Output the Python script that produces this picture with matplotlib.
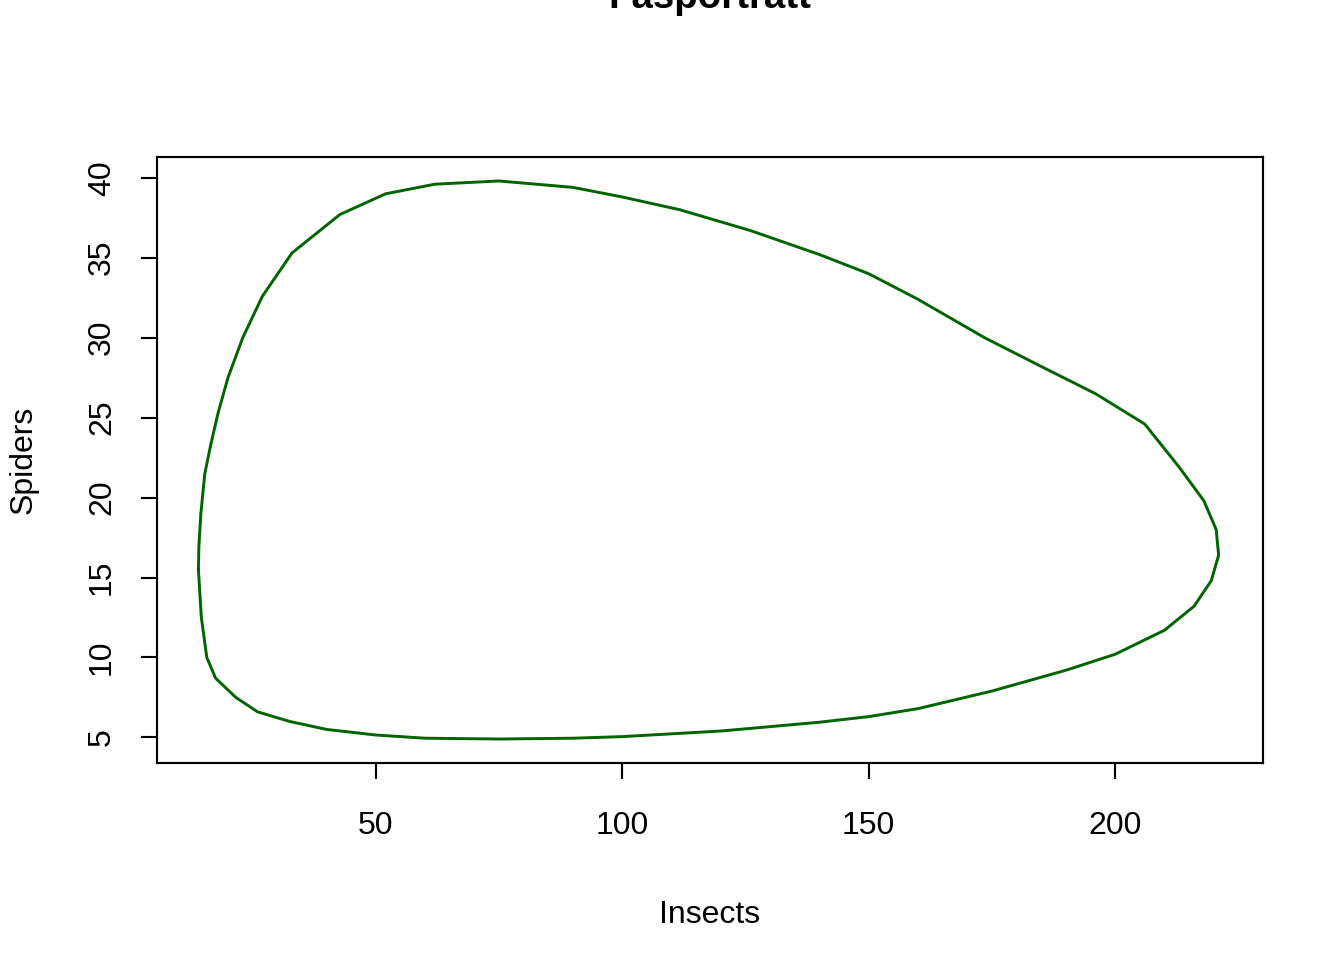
import matplotlib
matplotlib.use("Agg")
import matplotlib.pyplot as plt

plt.rcParams['font.family'] = ['Liberation Sans', 'DejaVu Sans']

# phase portrait (insects, spiders)
insects = [14, 14.6, 15.7, 17.5, 21.6, 26, 32.5, 40, 50, 60, 75, 90, 100, 120, 140,
           150, 160, 175, 190, 200, 210, 216, 219.5, 221, 220.5, 218, 213, 206, 196,
           185, 173.5, 160, 150, 140, 126, 111.7, 100, 90, 75, 62, 52, 42.7, 33, 27,
           23, 20, 18, 16.5, 15.3, 14.5, 14.1, 14]
spiders = [15.5, 12.5, 10, 8.7, 7.5, 6.6, 6, 5.5, 5.15, 4.95, 4.9, 4.95, 5.05, 5.4,
           5.95, 6.3, 6.8, 7.9, 9.2, 10.2, 11.7, 13.2, 14.8, 16.4, 18, 19.8, 21.9, 24.6,
           26.5, 28.2, 30, 32.4, 34.0, 35.2, 36.7, 38, 38.8, 39.4, 39.8, 39.6, 39, 37.7,
           35.3, 32.6, 30, 27.5, 25.3, 23.3, 21.5, 19, 17, 15.5]

fig = plt.figure(figsize=(7, 5), dpi=192)
ax = fig.add_axes([157/1344, 1-763/960, (1263-157)/1344, (763-157)/960])
ax.plot(insects, spiders, color='#006400', lw=1.1)
ax.set_xlim(5.6, 230)
ax.set_ylim(3.4, 41.3)
ax.set_xticks([50, 100, 150, 200])
ax.set_yticks([5, 10, 15, 20, 25, 30, 35, 40])
for lab in ax.get_yticklabels():
    lab.set_rotation(90)
    lab.set_va('center')
ax.tick_params(labelsize=12, length=6, pad=12)
ax.tick_params(axis='y', pad=9)
ax.set_xlabel('Insects', fontsize=12, labelpad=22)
ax.set_ylabel('Spiders', fontsize=12, labelpad=18)
ax.set_title('Fasporträtt', fontsize=14.4, fontweight='bold', pad=56)
fig.savefig('out.png')
